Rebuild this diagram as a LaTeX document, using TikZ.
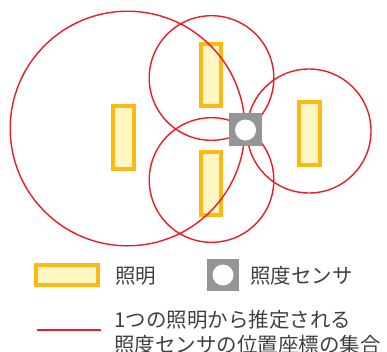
\documentclass[tikz,border=0pt]{standalone}
\usepackage{fontspec}
\setmainfont{Noto Sans CJK JP}
\definecolor{lampedge}{RGB}{253,185,19}
\definecolor{lampfill}{RGB}{255,246,196}
\definecolor{redline}{RGB}{237,28,36}
\definecolor{sensorgray}{RGB}{147,149,152}
\definecolor{txt}{RGB}{64,64,64}
\tikzset{
  lampbox/.style={draw=lampedge,fill=lampfill,line width=4pt},
  zone/.style={draw=redline,line width=1.4pt},
  sensorbox/.style={fill=sensorgray},
  sensorhole/.style={fill=white},
  lbl/.style={inner sep=0pt,anchor=west,text=txt,font=\fontsize{20.5}{25}\selectfont}
}
\begin{document}
\begin{tikzpicture}[x=1pt,y=-1pt]
\useasboundingbox (0,0) rectangle (387,351);
% lamps
\draw[lampbox] (201,44) rectangle (221,106);
\draw[lampbox] (113,106) rectangle (134,169);
\draw[lampbox] (201,152) rectangle (221,215);
\draw[lampbox] (299,102) rectangle (320,165);
% estimated zones
\draw[zone] (127.5,128.5) circle[radius=117.3];
\draw[zone] (211.5,78) circle[radius=62.3];
\draw[zone] (211.5,180) circle[radius=62.3];
\draw[zone] (309,131) circle[radius=62];
% sensor
\fill[sensorbox] (229,113) rectangle (262,146);
\fill[sensorhole] (245.5,130) circle[radius=10.5];
% legend
\draw[lampbox] (36,265) rectangle (98,285);
\node[lbl] (l1) at (115,276) {照明};
\fill[sensorbox] (207,259) rectangle (239,291);
\fill[sensorhole] (223,275) circle[radius=10.5];
\node[lbl] (l2) at (250,276) {照度センサ};
\coordinate (ra) at (37,330);
\coordinate (rb) at (101,330);
\draw[zone] (ra) -- (rb);
\node[lbl] (l3) at (114,320) {1つの照明から推定される};
\node[lbl] (l4) at (114,345) {照度センサの位置座標の集合};
\end{tikzpicture}
\end{document}
